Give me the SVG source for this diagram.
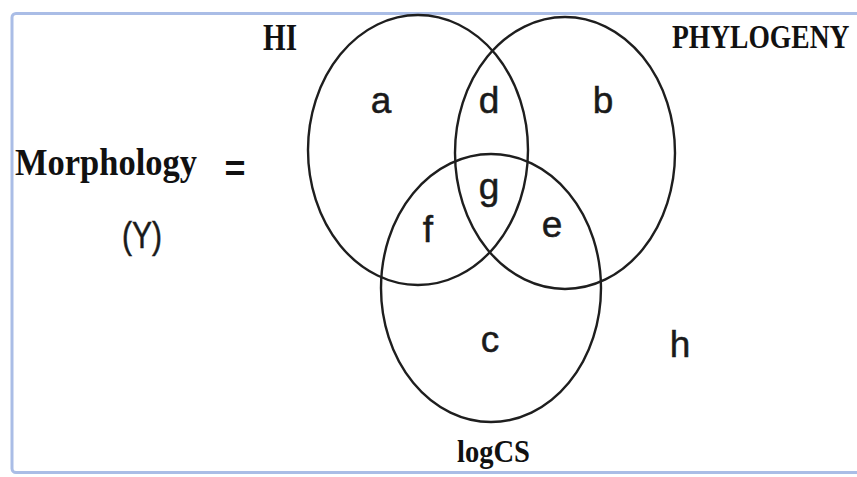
<svg xmlns="http://www.w3.org/2000/svg" width="857" height="477" viewBox="0 0 857 477">
<style>
.set{fill:none;stroke:#1e1e1e;stroke-width:2.4}
.title{font-family:"Liberation Serif","Times New Roman",serif;font-weight:bold;fill:#111}
.lbl{font-family:"Liberation Sans",Arial,sans-serif;font-size:37px;fill:#1a1a1a;stroke:#1a1a1a;stroke-width:0.5;text-anchor:middle}
</style>
<rect x="0" y="0" width="857" height="477" fill="#ffffff"/>
<rect x="12" y="13.5" width="870" height="459" rx="4" fill="none" stroke="#aabde6" stroke-width="3"/>
<g id="eq">
<text class="title" x="15" y="175" font-size="38" textLength="182" lengthAdjust="spacingAndGlyphs">Morphology</text>
<text x="235" y="181" font-family="Liberation Sans, Arial, sans-serif" font-weight="bold" font-size="36" text-anchor="middle" fill="#111">=</text>
<text class="lbl" x="142" y="248" font-size="34" textLength="40" lengthAdjust="spacingAndGlyphs">(Y)</text>
</g>
<g id="HI">
<ellipse class="set" cx="418" cy="150" rx="110" ry="135"/>
<text class="title" x="263" y="50" font-size="38" textLength="34" lengthAdjust="spacingAndGlyphs">HI</text>
</g>
<g id="PHYLOGENY">
<ellipse class="set" cx="565" cy="153" rx="110" ry="136"/>
<text class="title" transform="translate(672,48) scale(0.81,1)" x="0" y="0" font-size="34">PHYLOGENY</text>
</g>
<g id="logCS">
<ellipse class="set" cx="491" cy="288" rx="110" ry="134"/>
<text class="title" x="457" y="462" font-size="31" textLength="73" lengthAdjust="spacingAndGlyphs">logCS</text>
</g>
<g id="regions">
<text class="lbl" x="381" y="113">a</text>
<text class="lbl" x="489" y="113">d</text>
<text class="lbl" x="603" y="113">b</text>
<text class="lbl" x="489" y="199">g</text>
<text class="lbl" x="428" y="242">f</text>
<text class="lbl" x="552" y="237">e</text>
<text class="lbl" x="490" y="352">c</text>
<text class="lbl" x="680" y="357">h</text>
</g>
</svg>
